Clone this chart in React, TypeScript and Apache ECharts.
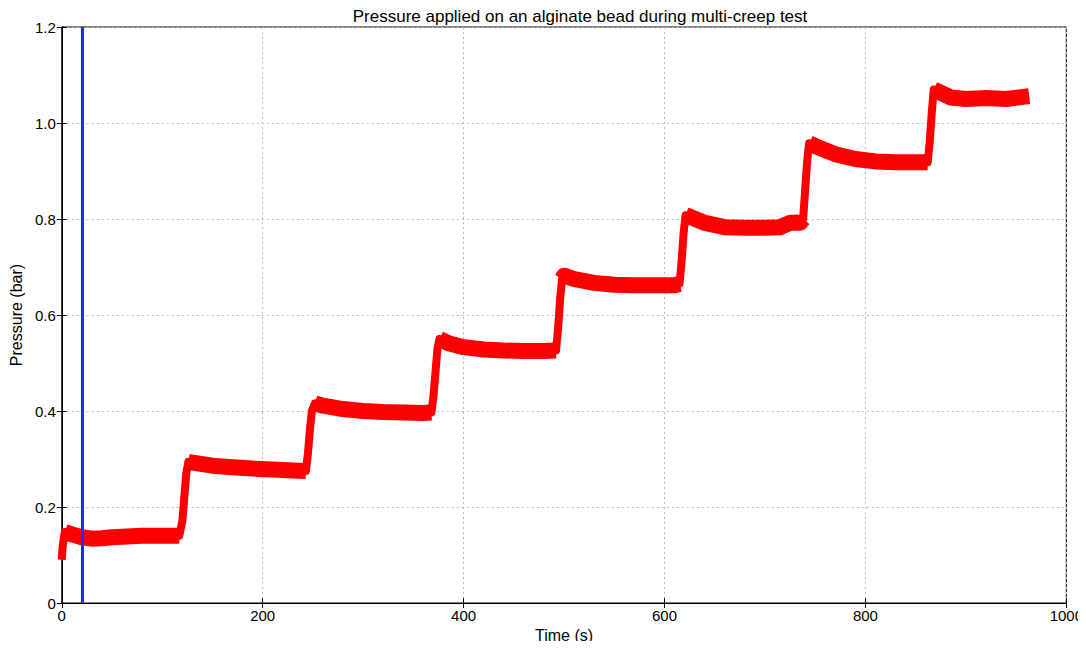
import React, { useEffect, useRef } from "react";
import * as echarts from "echarts";

const times = [0, 1, 3, 10, 20, 30, 40, 50, 60, 70, 80, 90, 100, 110, 117, 120, 122, 124, 126, 135, 150, 170, 190, 210, 230, 243, 245, 247, 249, 252, 260, 280, 300, 320, 340, 360, 368, 370, 372, 374, 376, 385, 400, 420, 440, 460, 480, 492, 494, 496, 498, 500, 510, 530, 550, 570, 590, 610, 615, 617, 619, 621, 625, 640, 660, 680, 700, 715, 725, 735, 738, 740, 742, 744, 750, 770, 790, 810, 830, 850, 862, 864, 866, 868, 875, 885, 900, 920, 940, 955, 963];
const pressures = [0.09, 0.12, 0.148, 0.143, 0.137, 0.134, 0.135, 0.137, 0.138, 0.139, 0.14, 0.14, 0.14, 0.14, 0.14, 0.17, 0.22, 0.27, 0.294, 0.291, 0.286, 0.283, 0.28, 0.278, 0.276, 0.275, 0.31, 0.36, 0.4, 0.416, 0.411, 0.404, 0.4, 0.398, 0.397, 0.396, 0.397, 0.43, 0.48, 0.53, 0.55, 0.541, 0.533, 0.528, 0.526, 0.525, 0.525, 0.526, 0.57, 0.63, 0.675, 0.682, 0.675, 0.667, 0.663, 0.662, 0.662, 0.662, 0.665, 0.71, 0.77, 0.808, 0.805, 0.792, 0.783, 0.782, 0.782, 0.783, 0.792, 0.792, 0.8, 0.86, 0.92, 0.958, 0.952, 0.935, 0.925, 0.92, 0.918, 0.918, 0.918, 0.96, 1.02, 1.07, 1.063, 1.053, 1.05, 1.052, 1.05, 1.054, 1.056];
const markerTime = 20;
const xTicks = [0, 200, 400, 600, 800, 1000];
const yTicks = [0, 0.2, 0.4, 0.6, 0.8, 1.0, 1.2];

const FONT = "Liberation Sans";

export default function App() {
  const ref = useRef<HTMLDivElement>(null);
  useEffect(() => {
    const chart = echarts.init(ref.current!, null, { renderer: "svg" });
    const data = times.map((t, i) => [t, pressures[i]]);
    const steep = (i: number) =>
      Math.abs(pressures[i + 1] - pressures[i]) / (times[i + 1] - times[i]) > 0.005;
    const plateau: any[] = [];
    for (let i = 0; i < times.length - 1; i++) {
      if (!steep(i)) {
        const last = plateau[plateau.length - 1];
        if (!last || last === "-" || last[0] !== times[i]) {
          if (last && last !== "-") plateau.push("-");
          plateau.push([times[i], pressures[i]]);
        }
        plateau.push([times[i + 1], pressures[i + 1]]);
      }
    }
    chart.setOption({
      animation: false,
      title: {
        text: "Pressure applied on an alginate bead during multi-creep test",
        left: 575,
        textAlign: "center",
        top: 3,
        textStyle: { fontFamily: FONT, fontSize: 17, fontWeight: "normal", color: "#000" },
      },
      grid: { left: 60, right: 16, top: 27, bottom: 46, show: true, borderColor: "#000", borderWidth: 1 },
      xAxis: [
        {
          type: "value",
          min: xTicks[0],
          max: xTicks[xTicks.length - 1],
          interval: 200,
          name: "Time (s)",
          nameLocation: "middle",
          nameGap: 18,
          nameTextStyle: { fontFamily: FONT, fontSize: 16, color: "#000" },
          axisLine: { lineStyle: { color: "#000" } },
          axisTick: { inside: true, length: 5, lineStyle: { color: "#000" } },
          axisLabel: { fontFamily: FONT, fontSize: 15, color: "#000", margin: 5, formatter: (v: number) => String(v) },
          splitLine: { show: true, lineStyle: { color: "#bbb", type: [2, 3] } },
        },
        {
          type: "value",
          position: "top",
          min: xTicks[0],
          max: xTicks[xTicks.length - 1],
          interval: 200,
          axisLine: { lineStyle: { color: "#000" } },
          axisTick: { inside: true, length: 5, lineStyle: { color: "#000" } },
          axisLabel: { show: false },
          splitLine: { show: false },
        },
      ],
      yAxis: [
        {
          type: "value",
          min: yTicks[0],
          max: yTicks[yTicks.length - 1],
          interval: 0.2,
          name: "Pressure (bar)",
          nameLocation: "middle",
          nameGap: 33,
          nameTextStyle: { fontFamily: FONT, fontSize: 16, color: "#000" },
          axisLine: { show: true, lineStyle: { color: "#000" } },
          axisTick: { show: true, inside: true, length: 5, lineStyle: { color: "#000" } },
          axisLabel: {
            fontFamily: FONT,
            fontSize: 15,
            color: "#000",
            margin: 6,
            formatter: (v: number) => (v === 0 ? "0" : v.toFixed(1)),
          },
          splitLine: { show: true, lineStyle: { color: "#bbb", type: [2, 3] } },
        },
        {
          type: "value",
          position: "right",
          min: yTicks[0],
          max: yTicks[yTicks.length - 1],
          interval: 0.2,
          axisLine: { show: true, lineStyle: { color: "#000" } },
          axisTick: { show: true, inside: true, length: 5, lineStyle: { color: "#000" } },
          axisLabel: { show: false },
          splitLine: { show: false },
        },
      ],
      series: [
        {
          type: "line",
          data,
          showSymbol: false,
          symbol: "none",
          lineStyle: { color: "#ff0000", width: 8, join: "round", cap: "butt" },
          z: 3,
        },
        {
          type: "line",
          data: plateau,
          connectNulls: false,
          showSymbol: false,
          symbol: "none",
          lineStyle: { color: "#ff0000", width: 16, join: "round", cap: "butt" },
          z: 3,
        },
        {
          type: "line",
          data: [],
          markLine: {
            silent: true,
            symbol: "none",
            label: { show: false },
            lineStyle: { color: "#1a2cff", width: 3, type: "solid" },
            data: [{ xAxis: markerTime }],
          },
          z: 4,
        },
      ],
    });
    return () => chart.dispose();
  }, []);
  return <div ref={ref} style={{ width: 1086, height: 649, margin: -8 }} />;
}
